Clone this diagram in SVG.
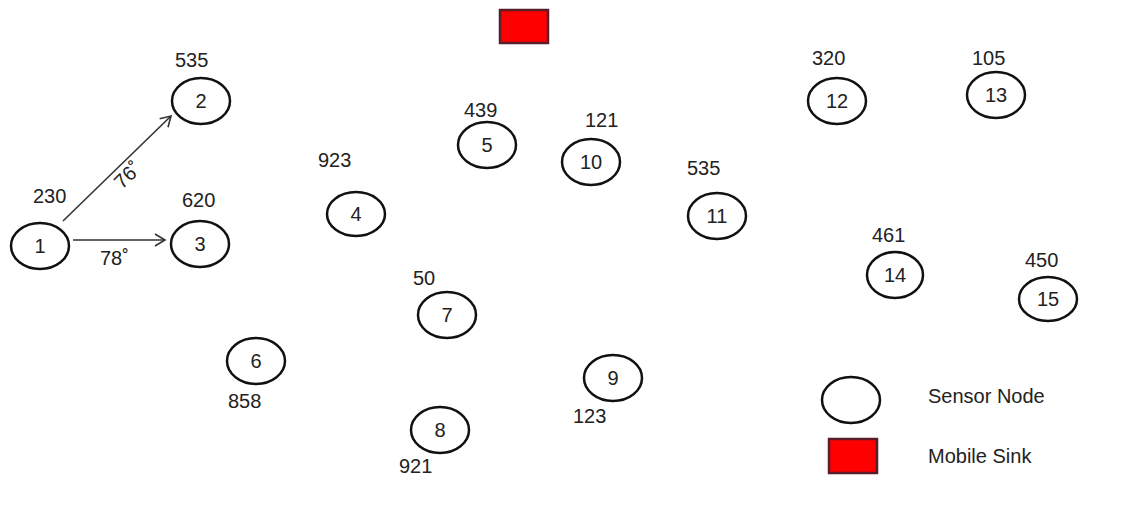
<svg xmlns="http://www.w3.org/2000/svg" width="1123" height="513" viewBox="0 0 1123 513">
<style>
.n{fill:none;stroke:#111;stroke-width:2.5}
text{font-family:"Liberation Sans",Arial,sans-serif;font-size:20px;fill:#222}
.c{text-anchor:middle}
.lg{font-size:20px}
.sink{fill:#ff0000;stroke:#5a1e2a;stroke-width:2.5}
.e{stroke:#333;stroke-width:1.6;fill:none}
</style>
<defs>
<marker id="ah" markerWidth="14" markerHeight="14" refX="11" refY="7" orient="auto" markerUnits="userSpaceOnUse">
<path d="M1,1 L11,7 L1,13" fill="none" stroke="#333" stroke-width="1.6"/>
</marker>
</defs>
<rect width="1123" height="513" fill="#fff"/>
<g id="connectors">
<line class="e" x1="63" y1="221" x2="171" y2="116" marker-end="url(#ah)"/>
<line class="e" x1="73" y1="240" x2="165" y2="240" marker-end="url(#ah)"/>
<text transform="translate(122,190) rotate(-44)">76˚</text>
<text x="100" y="265">78˚</text>
</g>
<g id="sink"><rect class="sink" x="500" y="10" width="48" height="33"/></g>
<g id="node1"><ellipse class="n" cx="40" cy="246" rx="29" ry="23"/><text class="c" x="40" y="253">1</text><text x="33" y="203">230</text></g>
<g id="node2"><ellipse class="n" cx="201" cy="101" rx="29" ry="23"/><text class="c" x="201" y="108">2</text><text x="175" y="67">535</text></g>
<g id="node3"><ellipse class="n" cx="200" cy="244" rx="29" ry="23"/><text class="c" x="200" y="251">3</text><text x="182" y="207">620</text></g>
<g id="node4"><ellipse class="n" cx="356" cy="214" rx="29" ry="22"/><text class="c" x="356" y="221">4</text><text x="318" y="167">923</text></g>
<g id="node5"><ellipse class="n" cx="487" cy="145" rx="29" ry="23"/><text class="c" x="487" y="152">5</text><text x="464" y="117">439</text></g>
<g id="node6"><ellipse class="n" cx="256" cy="361" rx="29" ry="23"/><text class="c" x="256" y="368">6</text><text x="228" y="408">858</text></g>
<g id="node7"><ellipse class="n" cx="447" cy="315" rx="29" ry="23"/><text class="c" x="447" y="322">7</text><text x="413" y="285">50</text></g>
<g id="node8"><ellipse class="n" cx="440" cy="430" rx="29" ry="23"/><text class="c" x="440" y="437">8</text><text x="399" y="473">921</text></g>
<g id="node9"><ellipse class="n" cx="613" cy="378" rx="29" ry="23"/><text class="c" x="613" y="385">9</text><text x="573" y="423">123</text></g>
<g id="node10"><ellipse class="n" cx="591" cy="162" rx="29" ry="23"/><text class="c" x="591" y="169">10</text><text x="585" y="127">121</text></g>
<g id="node11"><ellipse class="n" cx="717" cy="216" rx="29" ry="23"/><text class="c" x="717" y="223">11</text><text x="687" y="175">535</text></g>
<g id="node12"><ellipse class="n" cx="837" cy="101" rx="29" ry="23"/><text class="c" x="837" y="108">12</text><text x="812" y="65">320</text></g>
<g id="node13"><ellipse class="n" cx="996" cy="95" rx="29" ry="23"/><text class="c" x="996" y="102">13</text><text x="972" y="65">105</text></g>
<g id="node14"><ellipse class="n" cx="895" cy="275" rx="28" ry="23"/><text class="c" x="895" y="282">14</text><text x="872" y="242">461</text></g>
<g id="node15"><ellipse class="n" cx="1048" cy="299" rx="29" ry="22"/><text class="c" x="1048" y="306">15</text><text x="1025" y="267">450</text></g>
<g id="legend">
<ellipse class="n" cx="851" cy="400" rx="29" ry="23"/>
<text class="lg" x="928" y="403">Sensor Node</text>
<rect class="sink" x="829" y="439" width="48" height="34"/>
<text class="lg" x="928" y="463">Mobile Sink</text>
</g>
</svg>
